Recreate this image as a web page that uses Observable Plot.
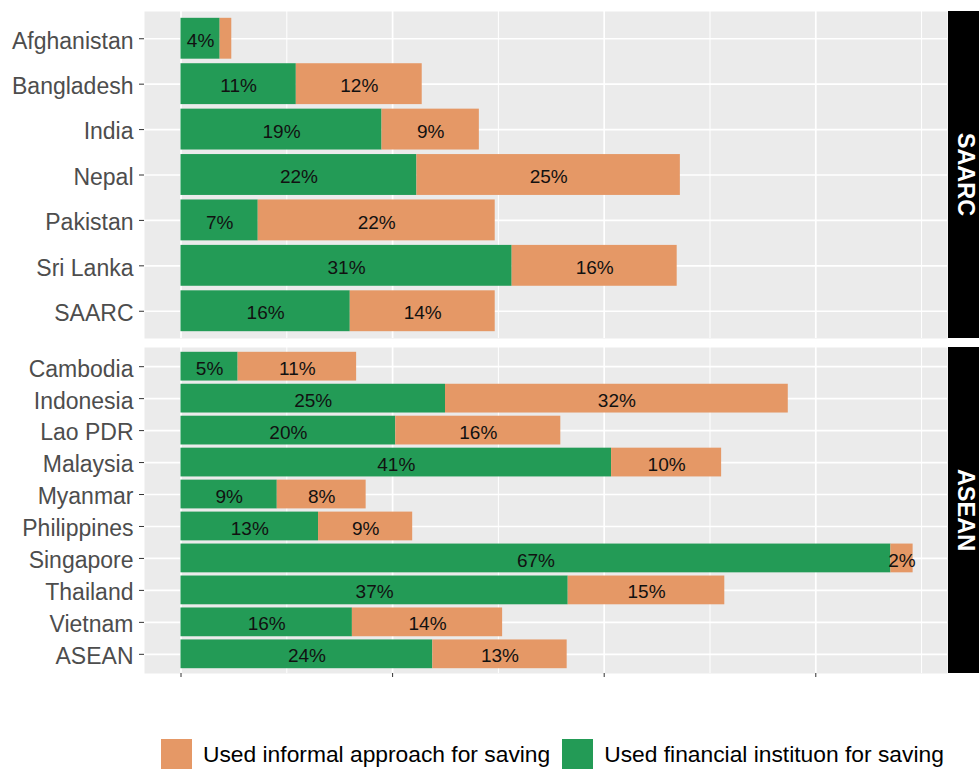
<!DOCTYPE html>
<html>
<head>
<meta charset="utf-8">
<script src="https://cdn.jsdelivr.net/npm/d3@7"></script>
<script src="https://cdn.jsdelivr.net/npm/@observablehq/plot@0.6"></script>
<style>
  html, body { margin: 0; padding: 0; background: #fff; overflow: hidden; }
  body { font-family: "Liberation Sans", Arial, sans-serif; }
  #chart { width: 979px; }
  #chart svg { display: block; }
  #legend { padding-left: 161px; margin-top: 55px; }
  #legend .lg-swatch { margin-right: 12px !important; }
  #legend .lg-swatch > svg { margin-right: 11px !important; }
</style>
</head>
<body>
<div id="chart"></div>
<div id="legend"></div>
<script>
// ---- data ----
const saarcCountries = ["Afghanistan", "Bangladesh", "India", "Nepal", "Pakistan", "Sri Lanka", "SAARC"];
const saarcFinancial = [3.7, 10.9, 19.0, 22.3, 7.3, 31.3, 16.0];
const saarcInformal  = [1.1, 11.9, 9.2, 24.9, 22.4, 15.6, 13.7];

const aseanCountries = ["Cambodia", "Indonesia", "Lao PDR", "Malaysia", "Myanmar", "Philippines", "Singapore", "Thailand", "Vietnam", "ASEAN"];
const aseanFinancial = [5.4, 25.0, 20.3, 40.7, 9.1, 13.0, 67.1, 36.6, 16.2, 23.8];
const aseanInformal  = [11.2, 32.4, 15.6, 10.4, 8.4, 8.9, 2.1, 14.8, 14.2, 12.7];

const groupNames = ["SAARC", "ASEAN"];
const seriesNames = ["Used financial instituon for saving", "Used informal approach for saving"];
const seriesColors = ["#239B56", "#E59866"];
const legendOrder = ["Used informal approach for saving", "Used financial instituon for saving"];
const legendColors = ["#E59866", "#239B56"];
const xMajorTicks = [0, 20, 40, 60];
const xMinorTicks = [10, 30, 50, 70];

// ---- build ----
const FONT = "'Liberation Sans', Arial, sans-serif";
const W = 979, ML = 144, MR = 32;

function tidy(countries, fin, inf) {
  const rows = [];
  countries.forEach((c, i) => {
    rows.push({country: c, series: seriesNames[0], value: fin[i]});
    rows.push({country: c, series: seriesNames[1], value: inf[i]});
  });
  return rows;
}

function panel(countries, fin, inf, group, {height, marginTop, marginBottom, showX}) {
  const data = tidy(countries, fin, inf);
  const svg = Plot.plot({
    width: W, height, marginLeft: ML, marginRight: MR, marginTop, marginBottom,
    style: {fontFamily: FONT, background: "white"},
    x: {domain: [-3.45, 72.45], axis: null},
    y: {domain: countries, paddingInner: 0.1, paddingOuter: 0.15, round: false, axis: null},
    color: {domain: seriesNames, range: seriesColors},
    marks: [
      Plot.frame({fill: "#EBEBEB", stroke: null}),
      Plot.gridX(xMinorTicks, {stroke: "white", strokeOpacity: 1, strokeWidth: 1}),
      Plot.gridX(xMajorTicks, {stroke: "white", strokeOpacity: 1, strokeWidth: 1.7}),
      Plot.gridY({stroke: "white", strokeOpacity: 1, strokeWidth: 1.7}),
      Plot.barX(data, Plot.stackX({x: "value", y: "country", z: "series", fill: "series", inset: 0})),
      Plot.text(data, Plot.stackX({
        x: "value", y: "country", z: "series",
        text: d => d.value >= 1.5 ? Math.round(d.value) + "%" : "",
        fontSize: 19, fill: "#111", fontFamily: FONT, dy: 2
      })),
      // y tick marks
      Plot.axisY({tickSize: 5, tickFormat: () => "", stroke: "#333", label: null}),
      // y tick labels
      Plot.axisY({tickSize: 0, tickPadding: 11, fontSize: 23, fill: "#4D4D4D", label: null, fontFamily: FONT, dy: 2.5}),
      showX ? Plot.axisX(xMajorTicks, {tickSize: 4, tickFormat: () => "", label: null, stroke: "#333"}) : null
    ]
  });
  // facet strip on the right
  const s = d3.select(svg);
  const top = marginTop, h = height - marginTop - marginBottom;
  s.append("rect").attr("x", W - MR + 1).attr("y", top).attr("width", MR).attr("height", h).attr("fill", "#000");
  s.append("text")
    .attr("transform", `translate(${W - MR + 19},${top + h / 2}) rotate(90)`)
    .attr("text-anchor", "middle").attr("dominant-baseline", "central")
    .attr("fill", "#fff").attr("font-weight", "bold").attr("font-size", 23.5)
    .attr("font-family", FONT)
    .text(group);
  return svg;
}

const chart = document.getElementById("chart");
chart.appendChild(panel(saarcCountries, saarcFinancial, saarcInformal, groupNames[0], {height: 342, marginTop: 11, marginBottom: 4, showX: false}));
chart.appendChild(panel(aseanCountries, aseanFinancial, aseanInformal, groupNames[1], {height: 341, marginTop: 5, marginBottom: 10, showX: true}));

const legend = Plot.legend({
  color: {type: "ordinal", domain: legendOrder, range: legendColors},
  legend: "swatches",
  swatchSize: 31,
  className: "lg",
  style: {fontSize: "22.8px", fontFamily: FONT, color: "#000"}
});
document.getElementById("legend").appendChild(legend);
</script>
</body>
</html>
